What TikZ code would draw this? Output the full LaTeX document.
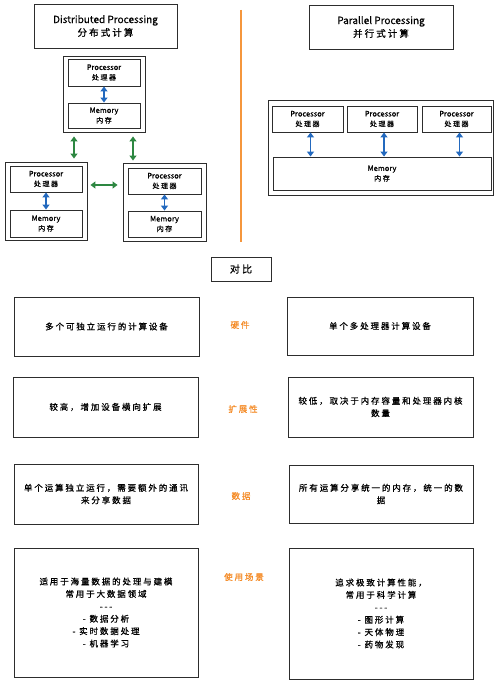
\documentclass[tikz,border=0pt]{standalone}
\usepackage{fontspec}
\setmainfont{Noto Sans CJK SC}[LetterSpace=22,FakeBold=0.7]
\newfontfamily\lat{Noto Sans CJK SC}[FakeBold=0.6]
\usetikzlibrary{arrows.meta}
\definecolor{edge}{RGB}{45,45,45}
\definecolor{blu}{RGB}{35,105,190}
\definecolor{grn}{RGB}{45,135,65}
\definecolor{org}{RGB}{245,140,40}
\definecolor{orgline}{RGB}{245,150,60}
\begin{document}
\begin{tikzpicture}[x=1pt,y=-1pt,
  box/.style={draw=edge,line width=0.9pt,fill=white,inner sep=0pt,align=center},
  ttl/.style={font=\fontsize{9.5}{13}\selectfont},
  sm/.style={font=\fontsize{7}{10}\selectfont},
  cmp/.style={font=\fontsize{8.5}{12.4}\selectfont},
  lbl/.style={text=org,font=\fontsize{8.5}{11}\selectfont},
  barrow/.style={{Triangle[width=7pt,length=5pt]}-{Triangle[width=7pt,length=5pt]},blu,line width=1.6pt},
  garrow/.style={{Triangle[width=7pt,length=5pt]}-{Triangle[width=7pt,length=5pt]},grn,line width=1.5pt}]
\useasboundingbox (0,0) rectangle (500,684);
\fill[white] (0,0) rectangle (500,684);

% ---------- Distributed ----------
\node[box,ttl,minimum width=143pt,minimum height=44pt] (tlt) at (105.5,26) {{\lat\fontsize{10}{13}\selectfont Distributed Processing}\\分布式计算};

\node[box,minimum width=82pt,minimum height=76pt] (tlout) at (104,94) {};
\node[box,sm,minimum width=72pt,minimum height=27pt] (tlproc) at (104,72.5) {{\lat\fontsize{7.5}{10}\selectfont Processor}\\处理器};
\node[box,sm,minimum width=72pt,minimum height=25pt] (tlmem) at (104,115.5) {{\lat\fontsize{7.5}{10}\selectfont Memory}\\内存};
\draw[barrow] (tlproc.south) -- (tlmem.north);

\node[box,minimum width=82pt,minimum height=78pt] (blout) at (46,201) {};
\node[box,sm,minimum width=72pt,minimum height=26pt] (blproc) at (46,179) {{\lat\fontsize{7.5}{10}\selectfont Processor}\\处理器};
\node[box,sm,minimum width=72pt,minimum height=27pt] (blmem) at (46,223.5) {{\lat\fontsize{7.5}{10}\selectfont Memory}\\内存};
\draw[barrow] (blproc.south) -- (blmem.north);

\node[box,minimum width=83pt,minimum height=78pt] (brout) at (164.5,202) {};
\node[box,sm,minimum width=73pt,minimum height=26pt] (brproc) at (164.5,181) {{\lat\fontsize{7.5}{10}\selectfont Processor}\\处理器};
\node[box,sm,minimum width=73pt,minimum height=26pt] (brmem) at (164.5,224) {{\lat\fontsize{7.5}{10}\selectfont Memory}\\内存};
\draw[barrow] (brproc.south) -- (brmem.north);

\draw[garrow,shorten <=4pt,shorten >=3pt] ([xshift=-30pt]tlout.south) -- ([xshift=-30pt]tlout.south |- blout.north);
\draw[garrow,shorten <=4pt,shorten >=2pt] ([xshift=29pt]tlout.south) -- ([xshift=29pt]tlout.south |- brout.north);
\draw[garrow,shorten <=3pt,shorten >=5pt] ([yshift=16pt]blout.east) -- ([yshift=16pt]blout.east -| brout.west);

% ---------- divider ----------
\coordinate (o1) at (241,10);
\coordinate (o2) at (241,242);
\draw[orgline,line width=1.1pt] (o1) -- (o2);

% ---------- Parallel ----------
\node[box,ttl,minimum width=144pt,minimum height=44pt] (trt) at (381,27) {{\lat\fontsize{10}{13}\selectfont Parallel Processing}\\并行式计算};
\node[box,minimum width=225pt,minimum height=95pt] (prout) at (380.5,147.5) {};
\node[box,sm,minimum width=71pt,minimum height=26pt] (p1) at (307.5,119) {{\lat\fontsize{7.5}{10}\selectfont Processor}\\处理器};
\node[box,sm,minimum width=70pt,minimum height=26pt] (p2) at (382,119) {{\lat\fontsize{7.5}{10}\selectfont Processor}\\处理器};
\node[box,sm,minimum width=69pt,minimum height=26pt] (p3) at (456.5,119) {{\lat\fontsize{7.5}{10}\selectfont Processor}\\处理器};
\node[box,sm,minimum width=218pt,minimum height=33pt] (pmem) at (382,173.5) {{\lat\fontsize{7.5}{10}\selectfont Memory}\\内存};
\draw[barrow] ([xshift=3pt]p1.south) -- ([xshift=3pt]p1.south |- pmem.north);
\draw[barrow] ([xshift=2pt]p2.south) -- ([xshift=2pt]p2.south |- pmem.north);
\draw[barrow] ([xshift=3pt]p3.south) -- ([xshift=3pt]p3.south |- pmem.north);

% ---------- Comparison ----------
\node[box,font=\fontsize{10}{12}\selectfont,minimum width=60pt,minimum height=24pt] (cmp) at (241,269) {对比};

\node[box,cmp,minimum width=185pt,minimum height=59pt] (l1) at (106.5,326.5) {多个可独立运行的计算设备};
\node[box,cmp,minimum width=186pt,minimum height=58pt] (r1) at (380,326) {单个多处理器计算设备};
\node[lbl] (k1) at (240,325) {硬件};

\node[box,cmp,minimum width=185pt,minimum height=60pt] (l2) at (105.5,407) {较高，增加设备横向扩展};
\node[box,cmp,minimum width=185pt,minimum height=60pt] (r2) at (380.5,407) {较低，取决于内存容量和处理器内核\\数量};
\node[lbl] (k2) at (243,409) {扩展性};

\node[box,cmp,minimum width=184pt,minimum height=60pt] (l3) at (106,494) {单个运算独立运行，需要额外的通讯\\来分享数据};
\node[box,cmp,minimum width=184pt,minimum height=58pt] (r3) at (381,494) {所有运算分享统一的内存，统一的数\\据};
\node[lbl] (k3) at (241,496) {数据};

\node[box,cmp,minimum width=184pt,minimum height=129pt] (l4) at (106,612.5) {适用于海量数据的处理与建模\\常用于大数据领域\\-{}-{}-\\- 数据分析\\- 实时数据处理\\- 机器学习};
\node[box,cmp,minimum width=184pt,minimum height=131pt] (r4) at (381,613.5) {追求极致计算性能，\\常用于科学计算\\-{}-{}-\\- 图形计算\\- 天体物理\\- 药物发现};
\node[lbl] (k4) at (244,577) {使用场景};
\end{tikzpicture}
\end{document}
